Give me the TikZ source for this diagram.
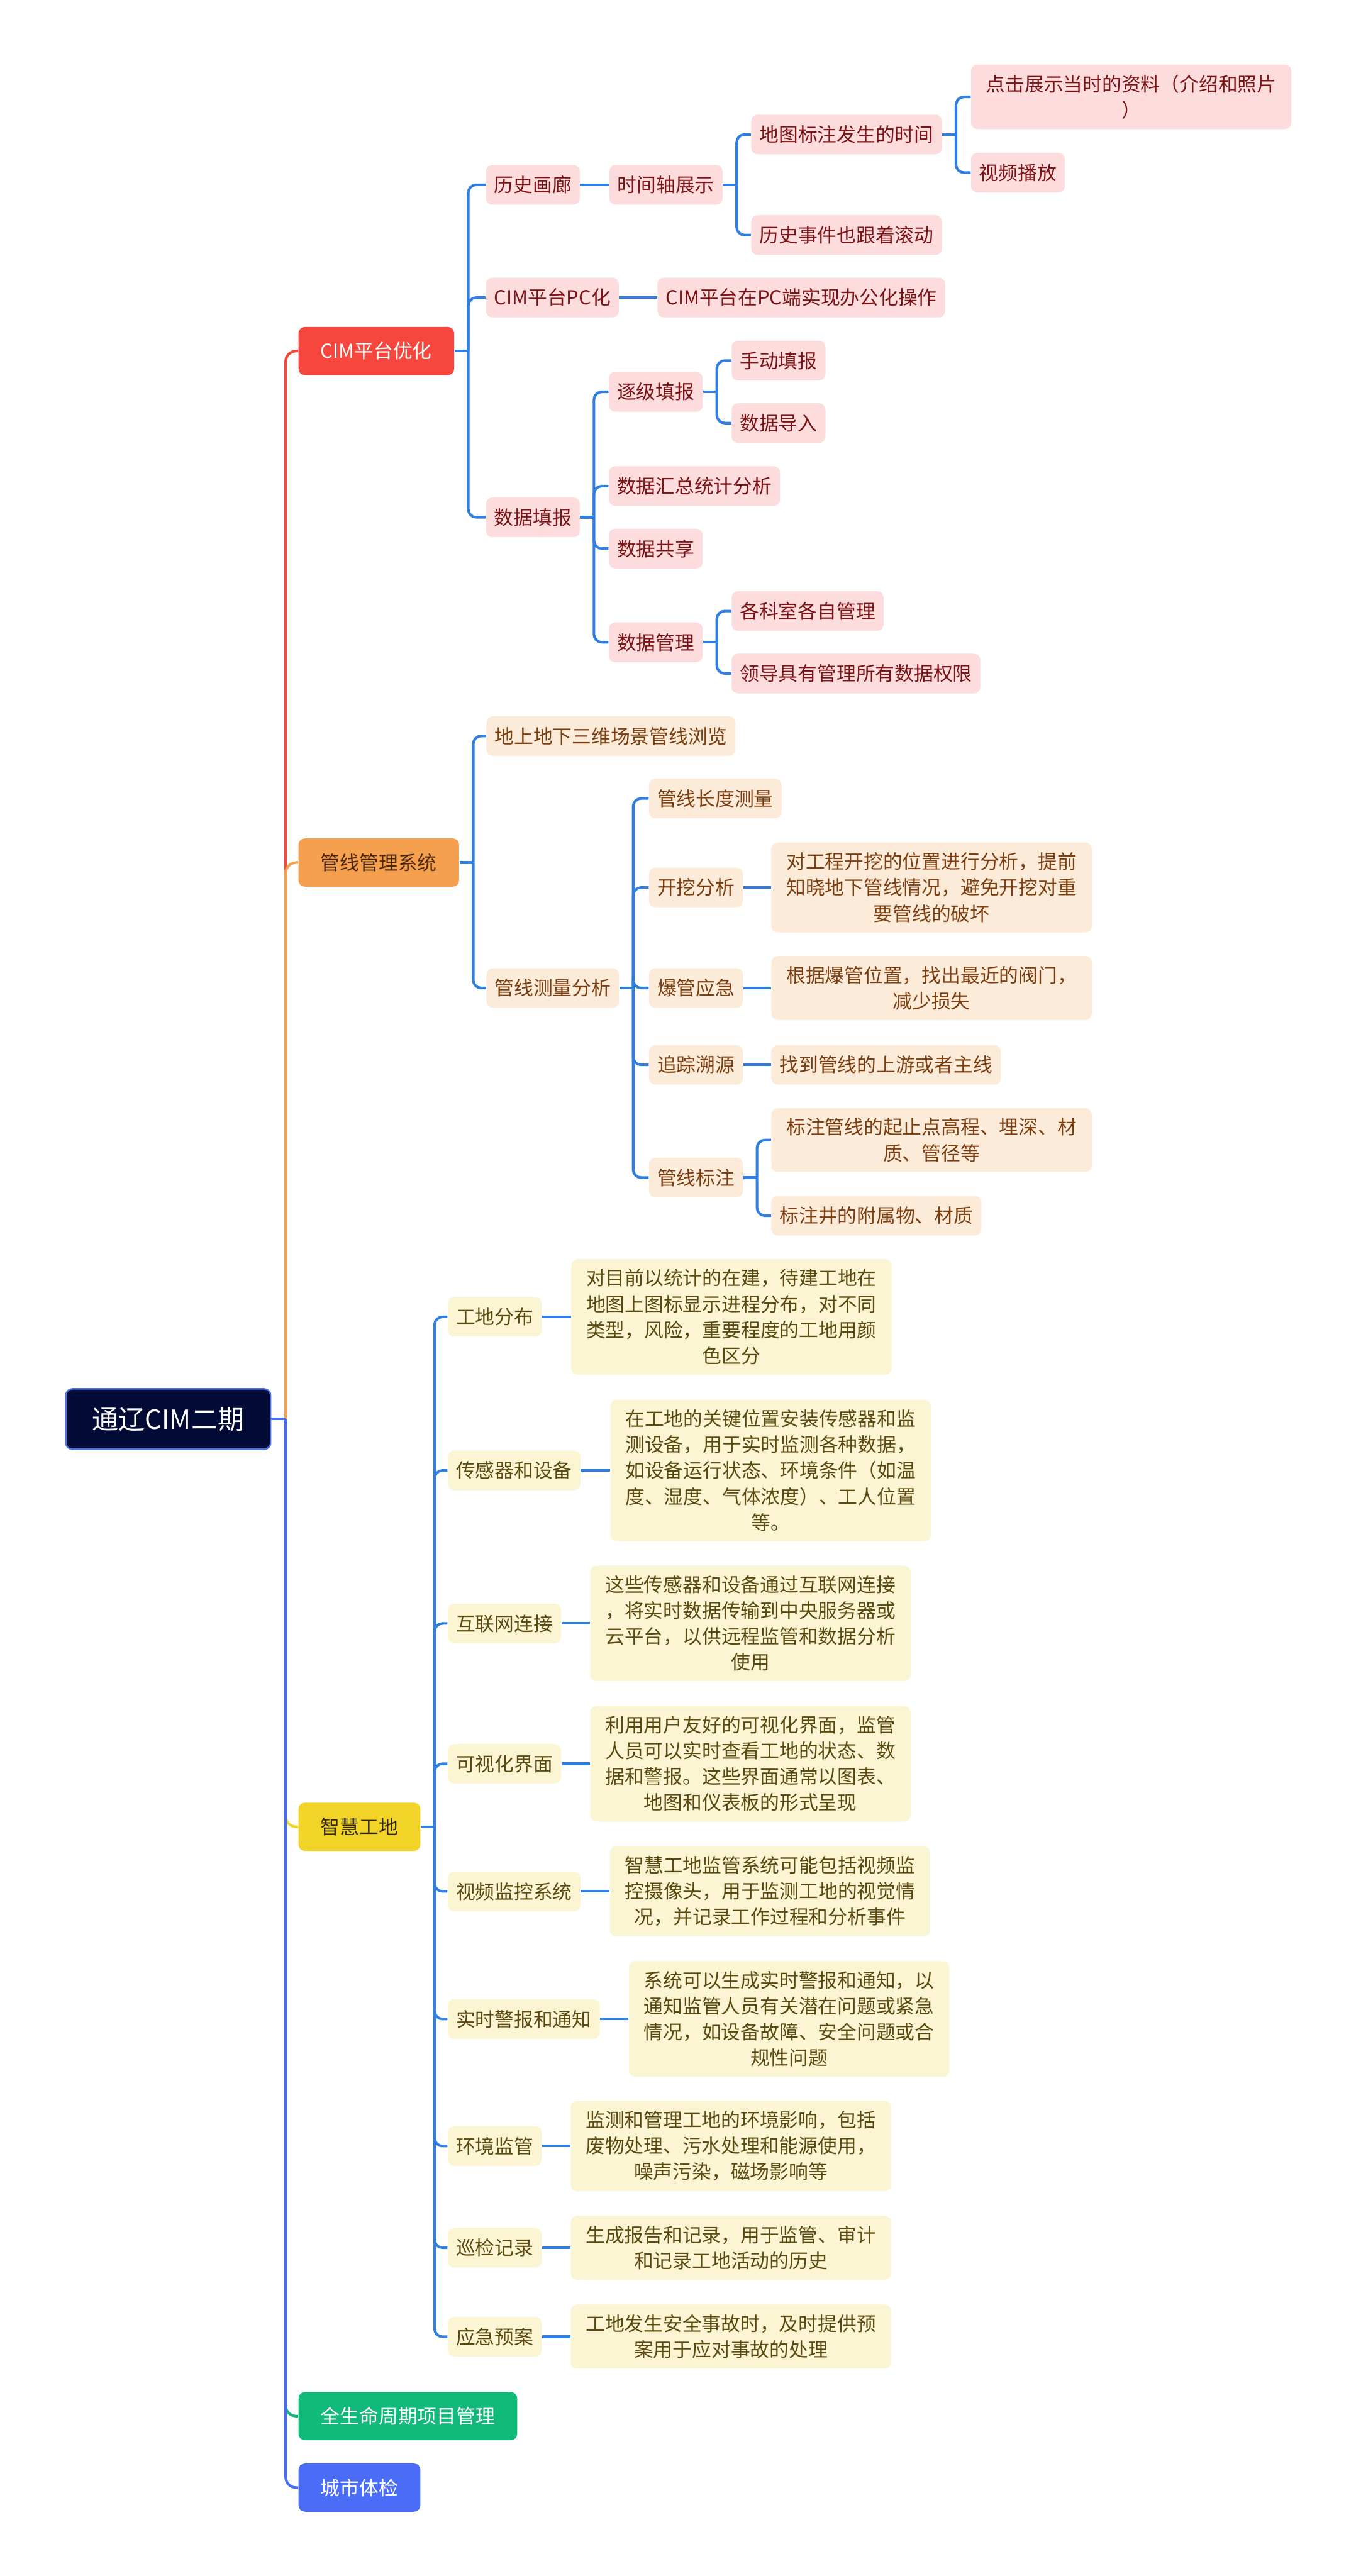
\documentclass[tikz,border=0pt]{standalone}
\usepackage{fontspec}
\setmainfont{Noto Sans CJK SC}
\definecolor{rootfill}{HTML}{020A36}
\definecolor{rootdraw}{HTML}{4A73E8}
\definecolor{cimred}{HTML}{F7463D}
\definecolor{pipeorange}{HTML}{F4A04E}
\definecolor{siteyellow}{HTML}{F2D327}
\definecolor{lifegreen}{HTML}{11B97A}
\definecolor{checkblue}{HTML}{4A6CF7}
\definecolor{linkblue}{HTML}{2F7FE3}
\definecolor{pinkfill}{HTML}{FCDCDC}
\definecolor{pinktext}{HTML}{7A1416}
\definecolor{peachfill}{HTML}{FDEBDA}
\definecolor{peachtext}{HTML}{7A3E10}
\definecolor{creamfill}{HTML}{FCF5D4}
\definecolor{creamtext}{HTML}{5A4A10}
\definecolor{pipedark}{HTML}{4A2506}
\definecolor{sitedark}{HTML}{2E2600}
\begin{document}
\begin{tikzpicture}[
    every node/.style = {font = \fontsize{10.4}{13.9}\selectfont, anchor = west, rounded corners = 0.12cm},
    topic/.style = {minimum height = 0.91cm, inner xsep = 0.42cm, inner ysep = 0pt, text height = 0.31cm, text depth = 0.03cm},
    item/.style = {minimum height = 0.75cm, inner xsep = 0.155cm, inner ysep = 0pt, text height = 0.31cm, text depth = 0.03cm},
    desc/.style = {text width = 5.5cm, align = center, inner xsep = 0.275cm, inner ysep = 0.19cm},
    cimleaf/.style = {fill = pinkfill, text = pinktext},
    pipeleaf/.style = {fill = peachfill, text = peachtext},
    siteleaf/.style = {fill = creamfill, text = creamtext},
    link/.style = {draw = linkblue, line width = 1.4pt},
    trunk/.style = {line width = 1.4pt, rounded corners = 0.2cm}
]
    \useasboundingbox (0,0) rectangle (25.6,-48.65);

    \node[fill = rootfill, draw = rootdraw, line width = 0.8pt, text = white, minimum height = 1.14cm, inner xsep = 0.5cm,
          font = \fontsize{14.2}{17}\selectfont] (root) at (1.23,-26.80) {通辽CIM二期};

    \node[topic, fill = cimred, text = white] (cim) at (5.63,-6.63) {CIM平台优化};
    \node[topic, fill = pipeorange, text = pipedark] (pipe) at (5.63,-16.29) {管线管理系统};
    \node[topic, fill = siteyellow, text = sitedark] (site) at (5.63,-34.50) {智慧工地};
    \node[topic, fill = lifegreen, text = white] (life) at (5.63,-45.63) {全生命周期项目管理};
    \node[topic, fill = checkblue, text = white] (check) at (5.63,-46.98) {城市体检};

    \node[item, cimleaf] (hist) at (9.17,-3.49) {历史画廊};
    \node[item, cimleaf] (timeline) at (11.50,-3.49) {时间轴展示};
    \node[item, cimleaf] (mapmark) at (14.18,-2.54) {地图标注发生的时间};
    \node[item, cimleaf] (scroll) at (14.18,-4.44) {历史事件也跟着滚动};
    \node[desc, cimleaf] (clickinfo) at (18.33,-1.83) {点击展示当时的资料（介绍和照片\\）};
    \node[item, cimleaf] (video) at (18.33,-3.26) {视频播放};
    \node[item, cimleaf] (pcify) at (9.17,-5.62) {CIM平台PC化};
    \node[item, cimleaf] (pcdesc) at (12.41,-5.62) {CIM平台在PC端实现办公化操作};
    \node[item, cimleaf] (fill) at (9.17,-9.77) {数据填报};
    \node[item, cimleaf] (stepfill) at (11.49,-7.40) {逐级填报};
    \node[item, cimleaf] (summary) at (11.49,-9.18) {数据汇总统计分析};
    \node[item, cimleaf] (share) at (11.49,-10.36) {数据共享};
    \node[item, cimleaf] (manage) at (11.49,-12.13) {数据管理};
    \node[item, cimleaf] (manual) at (13.81,-6.81) {手动填报};
    \node[item, cimleaf] (import) at (13.81,-7.99) {数据导入};
    \node[item, cimleaf] (dept) at (13.81,-11.54) {各科室各自管理};
    \node[item, cimleaf] (leader) at (13.81,-12.72) {领导具有管理所有数据权限};

    \node[item, pipeleaf] (browse) at (9.18,-13.90) {地上地下三维场景管线浏览};
    \node[item, pipeleaf] (measure) at (9.18,-18.66) {管线测量分析};
    \node[item, pipeleaf] (length) at (12.25,-15.08) {管线长度测量};
    \node[item, pipeleaf] (dig) at (12.25,-16.76) {开挖分析};
    \node[item, pipeleaf] (burst) at (12.25,-18.66) {爆管应急};
    \node[item, pipeleaf] (trace) at (12.25,-20.11) {追踪溯源};
    \node[item, pipeleaf] (mark) at (12.25,-22.24) {管线标注};
    \node[desc, pipeleaf] (digdesc) at (14.56,-16.76) {对工程开挖的位置进行分析，提前\\知晓地下管线情况，避免开挖对重\\要管线的破坏};
    \node[desc, pipeleaf] (burstdesc) at (14.56,-18.66) {根据爆管位置，找出最近的阀门，\\减少损失};
    \node[item, pipeleaf] (tracedesc) at (14.56,-20.11) {找到管线的上游或者主线};
    \node[desc, pipeleaf] (markdesc) at (14.56,-21.53) {标注管线的起止点高程、埋深、材\\质、管径等};
    \node[item, pipeleaf] (welldesc) at (14.56,-22.96) {标注井的附属物、材质};

    \node[item, siteleaf] (sdist) at (8.45,-24.87) {工地分布};
    \node[item, siteleaf] (sensor) at (8.45,-27.77) {传感器和设备};
    \node[item, siteleaf] (net) at (8.45,-30.66) {互联网连接};
    \node[item, siteleaf] (vis) at (8.45,-33.31) {可视化界面};
    \node[item, siteleaf] (cctv) at (8.45,-35.72) {视频监控系统};
    \node[item, siteleaf] (alert) at (8.45,-38.13) {实时警报和通知};
    \node[item, siteleaf] (env) at (8.45,-40.53) {环境监管};
    \node[item, siteleaf] (patrol) at (8.45,-42.45) {巡检记录};
    \node[item, siteleaf] (plan) at (8.45,-44.13) {应急预案};
    \node[desc, siteleaf] (sdistdesc) at (10.78,-24.87) {对目前以统计的在建，待建工地在\\地图上图标显示进程分布，对不同\\类型，风险，重要程度的工地用颜\\色区分};
    \node[desc, siteleaf] (sensordesc) at (11.52,-27.77) {在工地的关键位置安装传感器和监\\测设备，用于实时监测各种数据，\\如设备运行状态、环境条件（如温\\度、湿度、气体浓度）、工人位置\\等。};
    \node[desc, siteleaf] (netdesc) at (11.14,-30.66) {这些传感器和设备通过互联网连接\\，将实时数据传输到中央服务器或\\云平台，以供远程监管和数据分析\\使用};
    \node[desc, siteleaf] (visdesc) at (11.14,-33.31) {利用用户友好的可视化界面，监管\\人员可以实时查看工地的状态、数\\据和警报。这些界面通常以图表、\\地图和仪表板的形式呈现};
    \node[desc, siteleaf] (cctvdesc) at (11.51,-35.72) {智慧工地监管系统可能包括视频监\\控摄像头，用于监测工地的视觉情\\况，并记录工作过程和分析事件};
    \node[desc, siteleaf] (alertdesc) at (11.87,-38.13) {系统可以生成实时警报和通知，以\\通知监管人员有关潜在问题或紧急\\情况，如设备故障、安全问题或合\\规性问题};
    \node[desc, siteleaf] (envdesc) at (10.77,-40.53) {监测和管理工地的环境影响，包括\\废物处理、污水处理和能源使用，\\噪声污染，磁场影响等};
    \node[desc, siteleaf] (patroldesc) at (10.77,-42.45) {生成报告和记录，用于监管、审计\\和记录工地活动的历史};
    \node[desc, siteleaf] (plandesc) at (10.77,-44.13) {工地发生安全事故时，及时提供预\\案用于应对事故的处理};

    \foreach \c/\col in {cim/cimred, pipe/pipeorange, site/siteyellow, life/lifegreen, check/checkblue}
        \draw[trunk, \col] ([xshift = 0.27cm]root.east) |- (\c.west);
    \draw[trunk, checkblue] (root.east) -- ++(0.27,0);

    \foreach \p/\c in {cim/hist, cim/pcify, cim/fill, timeline/mapmark, timeline/scroll, mapmark/clickinfo, mapmark/video,
                       fill/stepfill, fill/summary, fill/share, fill/manage, stepfill/manual, stepfill/import, manage/dept, manage/leader,
                       pipe/browse, pipe/measure, measure/length, measure/dig, measure/burst, measure/trace, measure/mark,
                       mark/markdesc, mark/welldesc,
                       site/sdist, site/sensor, site/net, site/vis, site/cctv, site/alert, site/env, site/patrol, site/plan}
    {
        \draw[link] (\p.east) -- ++(0.26,0);
        \draw[link, rounded corners = 0.15cm] ([xshift = 0.26cm]\p.east) |- (\c.west);
    }

    \foreach \p/\c in {hist/timeline, pcify/pcdesc, dig/digdesc, burst/burstdesc, trace/tracedesc,
                       sdist/sdistdesc, sensor/sensordesc, net/netdesc, vis/visdesc, cctv/cctvdesc,
                       alert/alertdesc, env/envdesc, patrol/patroldesc, plan/plandesc}
        \draw[link] (\p.east) -- (\c.west);
\end{tikzpicture}
\end{document}
